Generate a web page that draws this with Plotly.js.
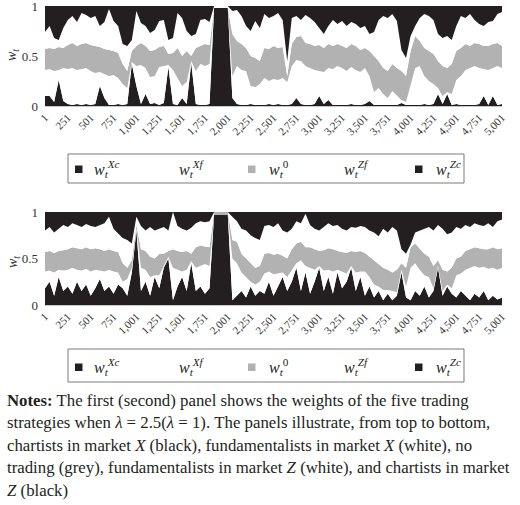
<!DOCTYPE html>
<html><head><meta charset="utf-8">
<script src="https://cdn.plot.ly/plotly-3.0.1.min.js"></script>
<style>html,body{margin:0;padding:0;background:#fff;} #chart{width:520px;height:505px;}</style>
</head><body><div id="chart"></div>
<script>
// ---- data (weights sampled every 50 periods, t = 1 ... 5001) ----
const STEP = 50;
const tickVals = [1,251,501,751,1001,1251,1501,1751,2001,2251,2501,2751,3001,3251,3501,3751,4001,4251,4501,4751,5001];
const tickText = ["1","251","501","751","1,001","1,251","1,501","1,751","2,001","2,251","2,501","2,751","3,001","3,251","3,501","3,751","4,001","4,251","4,501","4,751","5,001"];
const seriesNames = ["w_t^Zc","w_t^Zf","w_t^0","w_t^Xf","w_t^Xc"];

// Panel 1 (lambda = 2.5)
const zc1 = [.10,.10,.04,.26,.05,.02,.01,.02,.01,.02, .01,.02,.20,.08,.01,.01,.02,.01,.02,.42, .20,.02,.12,.02,.03,.01,.03,.39,.02,.01, .08,.02,.43,.02,.01,.01,.02,.98,.98,.98, .98,.08,.02,.01,.01,.02,.01,.01,.01,.02, .01,.02,.01,.01,.02,.08,.02,.01,.01,.02, .10,.02,.06,.01,.01,.01,.01,.02,.01,.01, .02,.05,.01,.01,.01,.01,.01,.01,.03,.01, .01,.01,.01,.02,.01,.02,.12,.02,.12,.01, .02,.01,.01,.01,.01,.02,.10,.01,.10,.01, .02];
const zf1 = [.26,.27,.31,.10,.33,.35,.37,.34,.36,.36, .34,.31,.14,.24,.29,.30,.26,.21,.16,.02, .20,.39,.26,.27,.27,.38,.37,.02,.34,.27, .12,.22,.02,.33,.41,.39,.40,0,0,0, 0,.22,.38,.35,.34,.18,.18,.21,.27,.23, .26,.24,.27,.23,.38,.38,.43,.39,.37,.34, .25,.32,.32,.36,.39,.37,.34,.37,.35,.33, .36,.25,.13,.17,.11,.07,.14,.09,.03,.03, .19,.37,.39,.28,.24,.20,.06,.08,.02,.11, .24,.29,.35,.37,.39,.36,.27,.35,.28,.39, .36];
const w01 = [.21,.21,.22,.23,.20,.24,.25,.24,.25,.25, .26,.27,.25,.25,.26,.24,.25,.20,.17,.11, .20,.22,.22,.26,.26,.20,.20,.11,.17,.30, .30,.31,.05,.23,.18,.22,.19,0,0,0, 0,.42,.25,.26,.23,.30,.29,.23,.30,.32, .33,.32,.31,.06,.22,.23,.25,.23,.24,.24, .26,.24,.24,.23,.22,.22,.23,.23,.24,.22, .20,.25,.36,.27,.26,.27,.27,.28,.29,.26, .35,.32,.25,.28,.30,.30,.27,.30,.24,.30, .29,.28,.26,.22,.23,.24,.23,.24,.24,.23, .22];
const xf1 = [.17,.22,.11,.07,.20,.25,.27,.24,.31,.28, .27,.30,.21,.27,.41,.30,.27,.20,.25,.11, .35,.20,.20,.18,.20,.26,.26,.14,.15,.35, .38,.20,.20,.14,.26,.25,.23,.02,.02,.02, .02,.23,.31,.28,.22,.25,.37,.33,.34,.31, .30,.35,.27,.15,.26,.21,.16,.28,.26,.24, .17,.14,.18,.26,.20,.25,.22,.22,.22,.22, .22,.17,.24,.41,.52,.53,.50,.47,.21,.18, .15,.10,.23,.34,.35,.34,.27,.28,.32,.24, .25,.32,.26,.32,.23,.20,.20,.24,.23,.29, .34];
const xc1 = [.26,.20,.32,.34,.22,.14,.10,.16,.07,.09, .12,.10,.20,.16,.03,.15,.20,.38,.40,.34, .05,.17,.20,.27,.24,.15,.14,.34,.32,.07, .12,.25,.30,.28,.14,.13,.16,0,0,0, 0,.05,.04,.10,.20,.25,.15,.22,.08,.12, .10,.07,.14,.55,.12,.10,.14,.09,.12,.16, .22,.28,.20,.14,.18,.15,.20,.16,.18,.22, .20,.28,.26,.14,.10,.12,.08,.15,.44,.52, .30,.20,.12,.08,.10,.14,.28,.32,.30,.34, .20,.10,.12,.08,.14,.18,.20,.16,.15,.08, .06];

// Panel 2 (lambda = 1)
const zc2 = [.18,.25,.10,.30,.15,.20,.12,.25,.15,.22, .10,.18,.28,.15,.20,.12,.22,.18,.10,.35, .80,.15,.25,.10,.30,.18,.40,.50,.05,.20, .30,.15,.45,.15,.20,.12,.18,.97,.97,.97, .97,.05,.10,.15,.08,.20,.10,.15,.12,.25, .10,.20,.30,.15,.25,.40,.15,.35,.12,.25, .40,.15,.30,.12,.35,.18,.25,.40,.15,.30, .10,.20,.08,.15,.05,.12,.05,.10,.35,.08, .05,.15,.10,.20,.08,.15,.40,.10,.20,.12, .08,.15,.10,.05,.12,.08,.15,.05,.10,.06, .08];
const zf2 = [.18,.12,.25,.08,.22,.18,.28,.13,.22,.17, .26,.20,.09,.21,.18,.24,.13,.07,.18,.05, .02,.25,.13,.20,.02,.14,.02,.02,.35,.18, .06,.23,.02,.25,.22,.32,.24,0,0,0, 0,.45,.35,.20,.22,.05,.12,.10,.22,.11, .23,.14,.05,.15,.13,.05,.33,.07,.28,.13, .02,.22,.08,.24,.03,.18,.09,.02,.20,.06, .26,.10,.14,.05,.11,.04,.10,.04,.03,.12, .35,.30,.28,.12,.22,.03,.02,.05,.02,.06, .24,.19,.28,.35,.30,.32,.26,.34,.30,.32, .32];
const w02 = [.21,.21,.21,.20,.22,.22,.22,.23,.23,.23, .24,.23,.23,.22,.22,.22,.22,.20,.12,.08, .04,.20,.20,.22,.18,.23,.13,.06,.20,.20, .21,.20,.08,.22,.22,.19,.20,.03,.03,.03, .03,.20,.23,.20,.20,.20,.18,.17,.21,.20, .21,.21,.18,.20,.22,.21,.20,.20,.22,.22, .16,.22,.23,.24,.20,.21,.22,.16,.22,.22, .20,.22,.26,.25,.24,.22,.20,.24,.07,.20, .22,.21,.22,.23,.22,.24,.06,.23,.14,.22, .18,.18,.20,.20,.20,.21,.19,.21,.22,.22, .21];
const xf2 = [.23,.26,.22,.24,.27,.24,.26,.25,.24,.25, .25,.23,.26,.30,.35,.24,.20,.27,.30,.18, .09,.25,.22,.32,.30,.27,.29,.22,.40,.27, .25,.22,.28,.26,.26,.26,.28,0,0,0, 0,.25,.22,.27,.30,.30,.32,.28,.30,.30, .30,.33,.27,.28,.22,.24,.20,.36,.24,.22, .22,.25,.27,.25,.28,.25,.24,.26,.26,.27, .28,.28,.30,.29,.42,.40,.49,.42,.15,.15, .03,.12,.20,.27,.32,.38,.38,.44,.40,.38, .34,.30,.28,.24,.26,.25,.25,.28,.22,.30, .31];
const xc2 = [.20,.16,.22,.18,.14,.16,.12,.14,.16,.13, .15,.16,.14,.12,.05,.18,.23,.28,.30,.34, .05,.15,.20,.16,.20,.18,.16,.20,0,.15, .18,.20,.17,.12,.10,.11,.10,0,0,0, 0,.05,.10,.18,.20,.25,.28,.30,.15,.14, .16,.12,.20,.22,.18,.10,.12,.02,.14,.18, .20,.16,.12,.15,.14,.18,.20,.16,.17,.15, .16,.20,.22,.26,.18,.22,.16,.20,.40,.45, .35,.22,.20,.18,.16,.20,.14,.18,.24,.22, .16,.18,.14,.16,.12,.14,.15,.12,.16,.10, .08];

const t = zc1.map((_, i) => 1 + STEP * i);

// ---- layout helpers ----
const W = 520, H = 505, ML = 45, MR = 18;
const px = x => (x - ML) / (W - ML - MR);
const py = y => 1 - y / H;

const BLACK = '#231f20', GREY = '#b2b2b2', WHITE = '#ffffff';
const SERIF = 'Liberation Serif, Times New Roman, serif';

function panel(series, xa, ya) {
  const cols = [BLACK, WHITE, GREY, WHITE, BLACK];
  return series.map((s, i) => ({
    x: t, y: s, type: 'scatter', mode: 'lines', stackgroup: 'g' + ya,
    fillcolor: cols[i], line: {width: 0, color: cols[i]},
    xaxis: xa, yaxis: ya, name: seriesNames[i], showlegend: false, hoverinfo: 'skip'
  }));
}

const data = [
  ...panel([zc1, zf1, w01, xf1, xc1], 'x', 'y'),
  ...panel([zc2, zf2, w02, xf2, xc2], 'x2', 'y2')
];

const xBase = {
  range: [1, 5001], tickvals: tickVals, ticktext: tickText, tickangle: -45,
  tickfont: {family: SERIF, size: 11, color: '#333'},
  showline: true, linecolor: '#c8c8c8', linewidth: 1, ticks: '',
  showgrid: false, zeroline: false, fixedrange: true
};
const yBase = {
  range: [0, 1], tickvals: [0, 0.5, 1], ticktext: ['0', '0.5', '1'],
  tickfont: {family: SERIF, size: 13, color: '#333'}, ticklabeloverflow: 'allow',
  showgrid: false, zeroline: false, showline: false, ticks: '', ticklabelstandoff: 6, fixedrange: true
};

const annotations = [];
const shapes = [];

// y-axis titles
[[55], [262]].forEach(([yy]) => {
  annotations.push({xref: 'paper', yref: 'paper', x: px(13), y: py(yy), text: '<i>w<sub>t</sub></i>',
    showarrow: false, textangle: -90, font: {family: SERIF, size: 14, color: '#333'}, xanchor: 'center', yanchor: 'middle'});
});

// legends
const legendLabels = [
  '<i>w</i><sub><i>t</i></sub><sup><i>Xc</i></sup>',
  '<i>w</i><sub><i>t</i></sub><sup><i>Xf</i></sup>',
  '<i>w</i><sub><i>t</i></sub><sup>0</sup>',
  '<i>w</i><sub><i>t</i></sub><sup><i>Zf</i></sup>',
  '<i>w</i><sub><i>t</i></sub><sup><i>Zc</i></sup>'
];
const legendTextX = [92, 177, 267, 342, 434];
const legendSwatch = [[75, BLACK], null, [248, GREY], null, [415, BLACK]];
function legend(top, bottom, itemY) {
  shapes.push({type: 'rect', xref: 'paper', yref: 'paper', x0: px(68), x1: px(464), y0: py(bottom), y1: py(top),
    line: {color: '#7a7a7a', width: 1}, fillcolor: 'rgba(0,0,0,0)'});
  legendLabels.forEach((lab, i) => {
    annotations.push({xref: 'paper', yref: 'paper', x: px(legendTextX[i]), y: py(itemY - 1), text: lab,
      showarrow: false, xanchor: 'left', yanchor: 'middle', font: {family: SERIF, size: 16, color: '#231f20'}});
    const sw = legendSwatch[i];
    if (sw) shapes.push({type: 'rect', xref: 'paper', yref: 'paper', x0: px(sw[0]), x1: px(sw[0] + 7.5),
      y0: py(itemY + 3), y1: py(itemY - 4.5), line: {width: 0}, fillcolor: sw[1]});
  });
}
legend(154, 183, 170);
legend(349, 382, 368);

// notes
const notes = [
  '<b>Notes:</b> The first (second) panel shows the weights of the five trading',
  'strategies when <i>λ</i> = 2.5(<i>λ</i> = 1). The panels illustrate, from top to bottom,',
  'chartists in market <i>X</i> (black), fundamentalists in market <i>X</i> (white), no',
  'trading (grey), fundamentalists in market <i>Z</i> (white), and chartists in market',
  '<i>Z</i> (black)'
];
notes.forEach((ln, i) => {
  annotations.push({xref: 'paper', yref: 'paper', x: px(5), y: py(400 + i * 22.5), text: ln,
    showarrow: false, xanchor: 'left', yanchor: 'middle', align: 'left',
    font: {family: SERIF, size: 16.8, color: '#231f20'}});
});

const layout = {
  width: W, height: H, margin: {l: ML, r: MR, t: 0, b: 0},
  paper_bgcolor: '#fff', plot_bgcolor: '#fff', showlegend: false,
  xaxis: Object.assign({}, xBase, {domain: [0, 1], anchor: 'y'}),
  yaxis: Object.assign({}, yBase, {domain: [py(106), py(6)], anchor: 'x'}),
  xaxis2: Object.assign({}, xBase, {domain: [0, 1], anchor: 'y2'}),
  yaxis2: Object.assign({}, yBase, {domain: [py(305), py(212)], anchor: 'x2'}),
  annotations: annotations, shapes: shapes
};

Plotly.newPlot('chart', data, layout, {staticPlot: true, displayModeBar: false});
</script>
</body></html>
